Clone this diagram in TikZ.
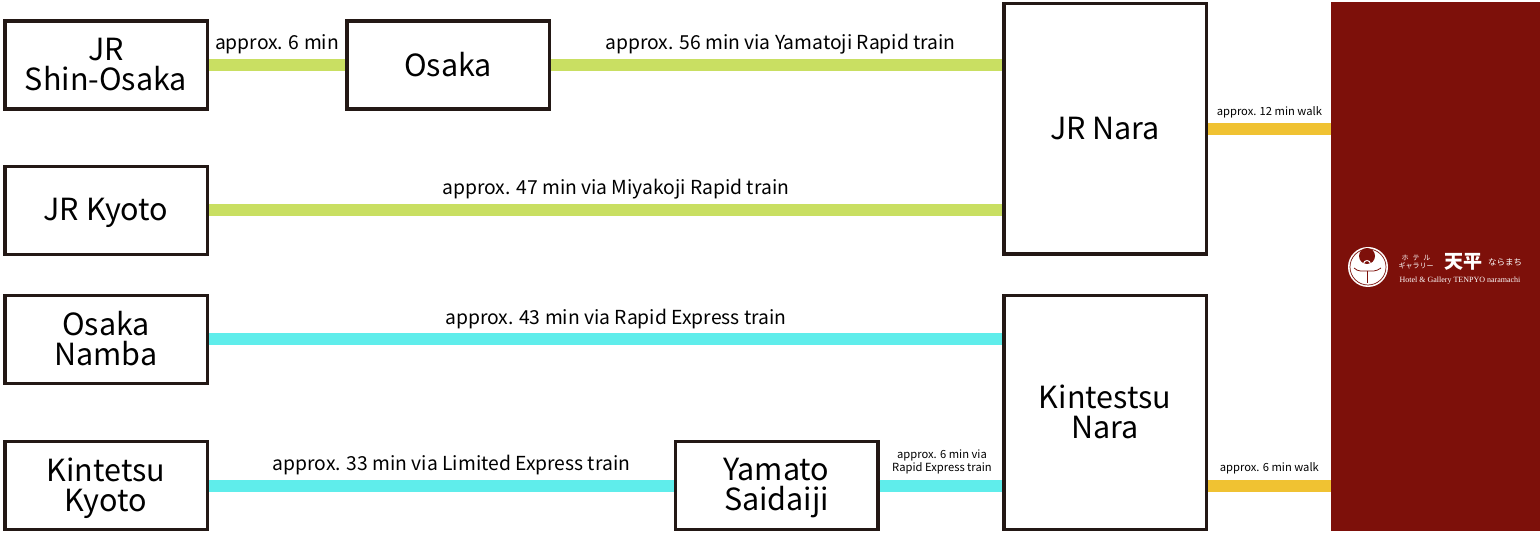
\documentclass[tikz,border=0pt]{standalone}
\usepackage{fontspec}
\setmainfont{Noto Sans CJK JP}
\newfontfamily\logoserif{Liberation Serif}

\begin{document}
\begin{tikzpicture}
        [x=1pt, y=-1pt,
        % Styles
        station/.style={draw=stationcolor, fill=white, line width=3.5pt, inner sep=0pt,
                minimum width=202.5pt, minimum height=88pt, align=center, text depth=2pt,
                font=\fontsize{30.5}{30}\selectfont},
        tall station/.style={station, minimum height=#1},
        line label/.style={above=5pt, inner sep=0pt, text=black, font=\fontsize{19.3}{20}\selectfont},
        small label/.style={above=5pt, inner sep=0pt, text=black, align=center, font=\fontsize{11.2}{13.5}\selectfont},
        route/.style={line width=12pt},
        jr line/.style={route, jrcolor},
        kintetsu line/.style={route, kintetsucolor},
        walk line/.style={route, walkcolor}]

        % Colors
        \definecolor{stationcolor}{HTML}{231815}
        \definecolor{jrcolor}{HTML}{C9DF62}
        \definecolor{kintetsucolor}{HTML}{5FEDEB}
        \definecolor{walkcolor}{HTML}{F0C232}
        \definecolor{hotelcolor}{HTML}{7D100A}

        \useasboundingbox (0, 0) rectangle (1540, 534);

        % The stations
        \node[station] (shinosaka) at (106, 65) {JR\\Shin-Osaka};
        \node[station] (osaka) at (448, 65) {Osaka};
        \node[station] (jrkyoto) at (106, 210.5) {JR Kyoto};
        \node[station] (namba) at (106, 339.5) {Osaka\\Namba};
        \node[station] (kintetsukyoto) at (106, 485.5) {Kintetsu\\Kyoto};
        \node[station] (saidaiji) at (776.5, 485.5) {Yamato\\Saidaiji};
        \node[tall station=250.5pt] (jrnara) at (1105, 129) {JR Nara};
        \node[tall station=233.5pt] (kintetsunara) at (1105, 412.5) {Kintestsu\\Nara};

        % The hotel
        \node[fill=hotelcolor, inner sep=0pt, minimum width=209pt, minimum height=529pt] (hotel) at (1435.5, 266.5) {};

        % The lines
        \draw[jr line] (shinosaka.east) -- node[line label] {approx. 6 min} (osaka.west);
        \draw[jr line] (osaka.east) -- node[pos=.509, line label] {approx. 56 min via Yamatoji Rapid train} (osaka.east -| jrnara.west);
        \draw[jr line] (jrkyoto.east) -- node[pos=.513, line label] {approx. 47 min via Miyakoji Rapid train} (jrkyoto.east -| jrnara.west);
        \draw[kintetsu line] (namba.east) -- node[pos=.513, line label] {approx. 43 min via Rapid Express train} (namba.east -| kintetsunara.west);
        \draw[kintetsu line] (kintetsukyoto.east) -- node[pos=.522, line label] {approx. 33 min via Limited Express train} (saidaiji.west);
        \draw[kintetsu line] (saidaiji.east) -- node[pos=.51, small label] {approx. 6 min via\\Rapid Express train} (saidaiji.east -| kintetsunara.west);
        \draw[walk line] (jrnara.east) -- node[small label] {approx. 12 min walk} (jrnara.east -| hotel.west);
        \draw[walk line] (saidaiji.east -| kintetsunara.east) -- node[small label] {approx. 6 min walk} (saidaiji.east -| hotel.west);

        % The logo
        \fill[white] (1368, 267) circle [radius=20];
        \draw[hotelcolor, line width=.7pt] (1368, 267) circle [radius=18];
        \fill[hotelcolor] (1367, 256) circle [radius=8];
        \draw[white, line width=1pt] (1367, 264) circle [radius=3.5];
        \draw[hotelcolor, line width=.8pt] (1367, 271) -- (1367, 283);
        \draw[hotelcolor, line width=.8pt] (1354, 268) .. controls (1358, 272) and (1363, 271) .. (1367, 271);
        \draw[hotelcolor, line width=.8pt] (1381, 268) .. controls (1376, 272) and (1371, 271) .. (1367, 271);
        \node[text=white, inner sep=0pt, font=\fontsize{7}{8.5}\selectfont, align=center] (logokana) at (1416, 262) {ホ\;\;テ\;\;ル\\ギャラリー};
        \node[text=white, inner sep=0pt, font=\bfseries\fontsize{19}{19}\selectfont] (logoname) at (1463, 262) {天平};
        \node[text=white, inner sep=0pt, font=\fontsize{8.5}{9}\selectfont] (logotown) at (1505, 262) {ならまち};
        \node[text=white, inner sep=0pt, font=\logoserif\fontsize{8}{8}\selectfont] (logotext) at (1460, 281) {Hotel \& Gallery TENPYO naramachi};
\end{tikzpicture}
\end{document}
